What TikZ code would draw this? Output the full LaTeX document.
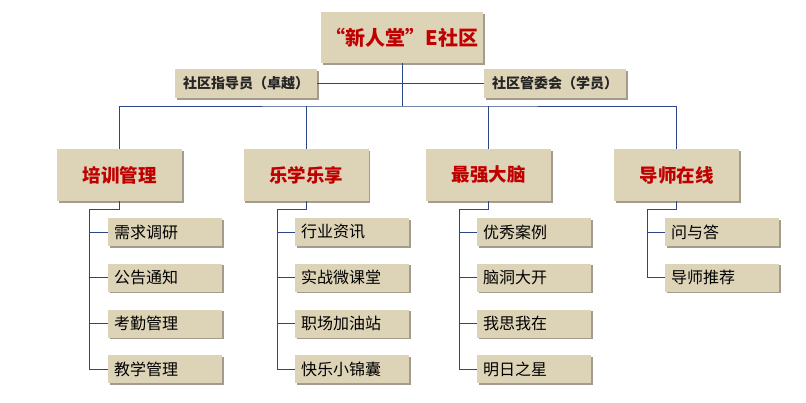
\documentclass[tikz,border=0pt]{standalone}
\usepackage{fontspec}
\setmainfont{Noto Sans CJK SC}
\usetikzlibrary{shadows}
\definecolor{boxfill}{HTML}{DDD3B7}
\definecolor{shadowc}{HTML}{A39C8C}
\definecolor{linec}{HTML}{2B4687}
\definecolor{titlered}{HTML}{C00000}
\tikzset{
  box/.style={fill=boxfill, inner sep=0pt,
    drop shadow={shadow xshift=1.8pt, shadow yshift=-1.8pt, fill=shadowc, opacity=1}},
  topbox/.style={box, minimum width=162pt, minimum height=51pt,
    font=\fontsize{20}{22}\selectfont\bfseries, text=titlered},
  sidebox/.style={box, minimum width=142pt, minimum height=29pt,
    font=\fontsize{14}{16}\selectfont\bfseries, text=black!85},
  catbox/.style={box, minimum width=125pt, minimum height=52pt,
    font=\fontsize{18.5}{20}\selectfont\bfseries, text=titlered},
  leafbox/.style={box, minimum width=114pt, minimum height=28pt,
    text width=102pt, align=left,
    font=\fontsize{16}{18}\selectfont, text=black},
  conn/.style={draw=linec, line width=1pt}
}
\begin{document}
\begin{tikzpicture}[x=1pt,y=-1pt]
\useasboundingbox[fill=white] (0,0) rectangle (806,402);
% top
\node[topbox] (top) at (402,37.5) {“新人堂”E社区};
\node[sidebox] (s1) at (246,83.5) {社区指导员（卓越）};
\node[sidebox] (s2) at (555,83.5) {社区管委会（学员）};
% categories
\node[catbox] (c1) at (119.5,175) {培训管理};
\node[catbox] (c2) at (306,175) {乐学乐享};
\node[catbox] (c3) at (488.5,175) {最强大脑};
\node[catbox] (c4) at (676.5,175) {导师在线};
% leaves
\node[leafbox] (k1a) at (165,232) {需求调研};
\node[leafbox] (k1b) at (165,277.5) {公告通知};
\node[leafbox] (k1c) at (165,323.5) {考勤管理};
\node[leafbox] (k1d) at (165,369) {教学管理};
\node[leafbox] (k2a) at (352,232) {行业资讯};
\node[leafbox] (k2b) at (352,277.5) {实战微课堂};
\node[leafbox] (k2c) at (352,323.5) {职场加油站};
\node[leafbox] (k2d) at (352,369) {快乐小锦囊};
\node[leafbox] (k3a) at (534,232) {优秀案例};
\node[leafbox] (k3b) at (534,277.5) {脑洞大开};
\node[leafbox] (k3c) at (534,323.5) {我思我在};
\node[leafbox] (k3d) at (534,369) {明日之星};
\node[leafbox] (k4a) at (722,232) {问与答};
\node[leafbox] (k4b) at (722,277.5) {导师推荐};
% connectors
\coordinate (bus) at (402,106);
\draw[conn] (s1.east) -- (s2.west);
\draw[conn] (top.south) -- (bus);
\draw[conn] (c1.north) |- (bus) -| (c4.north);
\draw[conn] (c2.north) -- (c2.north |- bus);
\draw[conn] (c3.north) -- (c3.north |- bus);
\coordinate (b1) at (89,209);
\coordinate (b2) at (277,209);
\coordinate (b3) at (459,209);
\coordinate (b4) at (647,209);
\draw[conn] (c1.south) |- (b1) |- (k1d.west);
\draw[conn] (b1 |- k1a.west) -- (k1a.west);
\draw[conn] (b1 |- k1b.west) -- (k1b.west);
\draw[conn] (b1 |- k1c.west) -- (k1c.west);
\draw[conn] (c2.south) |- (b2) |- (k2d.west);
\draw[conn] (b2 |- k2a.west) -- (k2a.west);
\draw[conn] (b2 |- k2b.west) -- (k2b.west);
\draw[conn] (b2 |- k2c.west) -- (k2c.west);
\draw[conn] (c3.south) |- (b3) |- (k3d.west);
\draw[conn] (b3 |- k3a.west) -- (k3a.west);
\draw[conn] (b3 |- k3b.west) -- (k3b.west);
\draw[conn] (b3 |- k3c.west) -- (k3c.west);
\draw[conn] (c4.south) |- (b4) |- (k4b.west);
\draw[conn] (b4 |- k4a.west) -- (k4a.west);
\end{tikzpicture}
\end{document}
